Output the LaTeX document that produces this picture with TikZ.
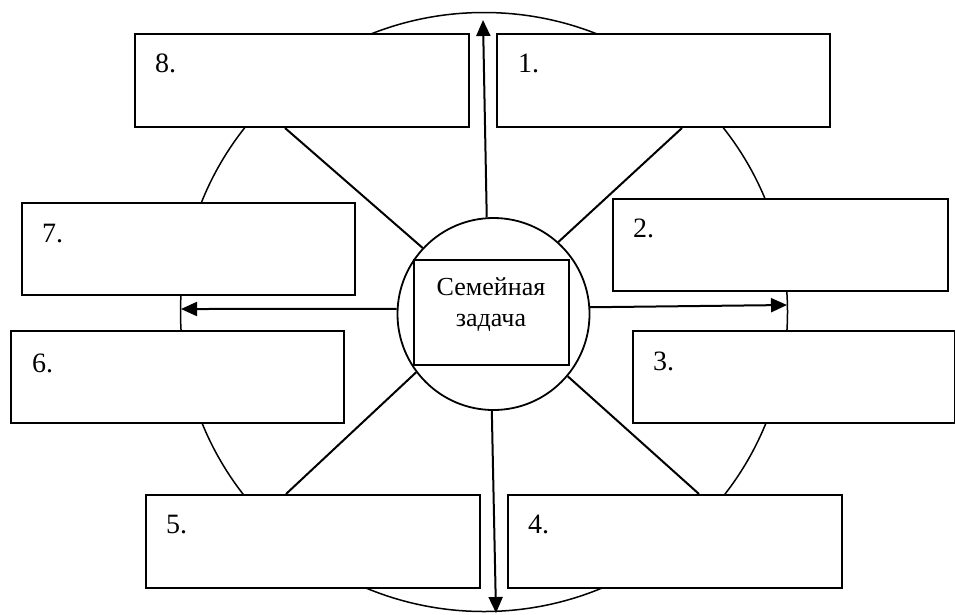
\documentclass[tikz,border=0pt]{standalone}
\usepackage{fontspec}
\setmainfont{Liberation Serif}
\usetikzlibrary{arrows.meta,calc}
\begin{document}
\begin{tikzpicture}[x=1pt,y=-1pt,
  txt/.style={font=\fontsize{26}{31}\selectfont},
  box/.style={draw,line width=2pt,fill=white,anchor=north west,inner sep=0pt,minimum height=93pt},
  num/.style={font=\fontsize{28}{32}\selectfont,anchor=base west,inner sep=0pt},
  conn/.style={line width=2pt},
  arr/.style={line width=2pt,-{Triangle[length=16pt,width=14pt]}}]
\useasboundingbox (0,0) rectangle (955,614);
% outer circle
\draw[line width=1.5pt] (484,312) ellipse [x radius=303.5, y radius=299.5];
% boxes
\node[box,minimum width=334pt] (b8) at (134,33) {};
\node[box,minimum width=333pt] (b1) at (496,33) {};
\node[box,minimum width=333pt,minimum height=92pt] (b7) at (21,202) {};
\node[box,minimum width=335pt,minimum height=92pt] (b2) at (612,198) {};
\node[box,minimum width=333pt,minimum height=92pt] (b6) at (10,330) {};
\node[box,minimum width=322pt,minimum height=92pt] (b3) at (632,330) {};
\node[box,minimum width=334pt] (b5) at (145,494) {};
\node[box,minimum width=334pt] (b4) at (507,494) {};
% labels
\node[num] (l8) at ([xshift=21pt,yshift=-39pt]b8.north west) {8.};
\node[num] (l1) at ([xshift=22pt,yshift=-39pt]b1.north west) {1.};
\node[num] (l7) at ([xshift=21pt,yshift=-40pt]b7.north west) {7.};
\node[num] (l2) at ([xshift=21pt,yshift=-39pt]b2.north west) {2.};
\node[num] (l6) at ([xshift=22pt,yshift=-42pt]b6.north west) {6.};
\node[num] (l3) at ([xshift=21pt,yshift=-40pt]b3.north west) {3.};
\node[num] (l5) at ([xshift=21pt,yshift=-39pt]b5.north west) {5.};
\node[num] (l4) at ([xshift=21pt,yshift=-39pt]b4.north west) {4.};
% centre
\node[draw,circle,line width=1.8pt,fill=white,minimum size=192pt,inner sep=0pt] (c) at (493.5,314) {};
\node[draw,line width=2pt,minimum width=155pt,minimum height=105pt,inner sep=0pt] (r) at (491.5,312.5) {};
\node[txt,align=center,inner sep=0pt] (t) at (491,305) {Семейная\\задача};
% free arrow ends on the outer circle
\coordinate (eN) at (483,20);
\coordinate (eS) at (496,613);
\coordinate (eW) at (181,309);
\coordinate (eE) at (787,305);
\draw[arr] (c.94) -- (eN);
\draw[arr] (c.-91.5) -- (eS);
\draw[arr] (c.177) -- (eW);
\draw[arr] (c.4) -- (eE);
% spokes
\draw[conn] (c.137) -- ([xshift=151pt]b8.south west);
\draw[conn] (c.48) -- ([xshift=186pt]b1.south west);
\draw[conn] (c.217.6) -- ([xshift=141pt]b5.north west);
\draw[conn] (c.-40.6) -- ([xshift=192pt]b4.north west);
\end{tikzpicture}
\end{document}
